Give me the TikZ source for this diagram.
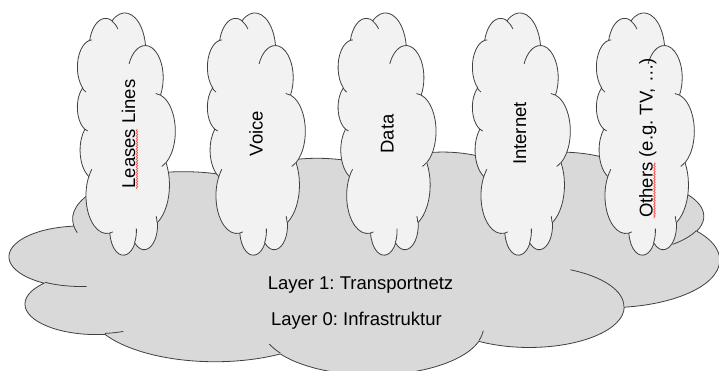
\documentclass[tikz,border=0pt]{standalone}
\usepackage{fontspec}
\setmainfont{Liberation Sans}
\usetikzlibrary{calc,decorations.pathmorphing}
\definecolor{bigfill}{HTML}{D9D9D9}
\definecolor{smallfill}{HTML}{F2F2F2}
\definecolor{edgecol}{HTML}{404040}
\definecolor{squigcol}{HTML}{FF4040}
\frenchspacing
\tikzset{
  oarc/.code n args={4}{%
    \pgfmathsetmacro\cloudAs{#3}%
    \pgfmathsetmacro\cloudAe{#3+#4}%
    \pgfmathsetmacro\cloudTs{atan2(#1*sin(\cloudAs), #2*cos(\cloudAs))}%
    \pgfmathsetmacro\cloudTe{atan2(#1*sin(\cloudAe), #2*cos(\cloudAe))}%
    \pgfmathsetmacro\cloudTd{\cloudTe-\cloudTs}%
    \pgfmathsetmacro\cloudTd{\cloudTd<0 ? \cloudTd+360 : \cloudTd}%
    \edef\cloudTmp{\noexpand\pgfkeysalso{start angle=\cloudTs, delta angle=\cloudTd, x radius=#1, y radius=#2}}%
    \cloudTmp
  },
  cloudline/.style={draw=edgecol, line width=0.8pt, line join=round},
  bigcloud/.style={cloudline, fill=bigfill},
  smallcloud/.style={cloudline, fill=smallfill},
  lbl/.style={font=\fontsize{18.5}{22}\selectfont, inner sep=0pt, text=black},
  squigline/.style={draw=squigcol, line width=0.6pt,
    decorate, decoration={snake, segment length=2.6pt, amplitude=0.8pt}}
}
% #1 style, #2 cx, #3 cy, #4 width, #5 height, #6 rotation
\newcommand\drawcloud[6]{%
  \begin{scope}[shift={(#2,#3)}, rotate=#6, xscale=#4/4320, yscale=#5/4320, shift={(-2160,-2160)}]
    \path[#1] (390,1437)
      arc[oarc={675.3}{919}{-190.48748}{123.78053}]
      arc[oarc={533.3}{726.7}{-144.10238}{89.94523}]
      arc[oarc={436.5}{594.5}{-145.80792}{99.72302}]
      arc[oarc={485.7}{659.5}{-130.98607}{117.24173}]
      arc[oarc={533.3}{727.3}{-78.70888}{109.02692}]
      arc[oarc={677.5}{922}{-46.26725}{130.269}]
      arc[oarc={578.5}{786.7}{0.62502}{114.03333}]
      arc[oarc={675.2}{921.5}{22.4516}{115.17255}]
      arc[oarc={772}{1054.3}{66.24263}{75.71102}]
      arc[oarc={436}{591.8}{85.05792}{146.73557}]
      arc[oarc={434.5}{594.5}{113.1715}{152.51885}]
      -- cycle;
    \path[cloudline]
      (469.3,2617.7) arc[oarc={434.5}{594.5}{86.742}{26.4295}]
      (692.8,3489.9) arc[oarc={436}{591.8}{73.61047}{11.44747}]
      (1647.8,3909.0) arc[oarc={675.2}{921.5}{137.62415}{14.0811}]
      (2882.7,3475.1) arc[oarc={675.2}{921.5}{6.45327}{15.99835}]
      (3412.9,2295.4) arc[oarc={578.5}{786.7}{-70.29235}{70.91737}]
      (4179.8,1535.4) arc[oarc={533.3}{727.3}{30.31803}{27.7515}]
      (3832.4,542.6) arc[oarc={485.7}{659.5}{-13.74433}{14.8589}]
      (2907.8,395.2) arc[oarc={485.7}{659.5}{-149.18145}{18.19537}]
      (2214.1,472.0) arc[oarc={436.5}{594.5}{-163.49427}{17.68635}]
      (1400.0,519.2) arc[oarc={675.3}{919}{-66.70695}{12.31935}]
      (412.7,1578.9) arc[oarc={675.3}{919}{157.65435}{11.85817}];
  \end{scope}}
\begin{document}
\begin{tikzpicture}[x=1pt, y=-1pt]
  \useasboundingbox (0,0) rectangle (719,370);
  \clip (0,0) rectangle (719,370);
  \fill[white] (0,0) rectangle (719,370);
  % infrastructure cloud
  \drawcloud{bigcloud}{364.5}{262.8}{710}{223}{0}
  % service clouds
  \drawcloud{smallcloud}{126}{134}{242}{98}{90}
  \drawcloud{smallcloud}{256}{134}{242}{98}{90}
  \drawcloud{smallcloud}{386.7}{134}{242}{98}{90}
  \drawcloud{smallcloud}{521}{134}{242}{98}{90}
  \drawcloud{smallcloud}{645}{134}{242}{98}{90}
  % labels
  \node[lbl, rotate=90, anchor=base] (leases) at (135,134) {Leases Lines};
  \node[lbl, rotate=90, anchor=base] (voice) at (262.5,133.5) {Voice};
  \node[lbl, rotate=90, anchor=base] (data) at (393.5,134) {Data};
  \node[lbl, rotate=90, anchor=base] (internet) at (526,133.5) {Internet};
  \node[lbl, rotate=90, anchor=base] (others) at (652.5,138) {Others (e.g. TV, …)};
  \node[lbl, anchor=base] (layer1) at (360.5,289) {Layer 1: Transportnetz};
  \node[lbl, anchor=base] (layer0) at (356.5,325.5) {Layer 0: Infrastruktur};
  % spell-check squiggles
  \draw[squigline] ($(leases.base west)+(2,0)$) -- ($(leases.base west)+(2,-59.6)$);
  \draw[squigline] ($(others.base west)+(2,0)$) -- ($(others.base west)+(2,-55.5)$);
\end{tikzpicture}
\end{document}
